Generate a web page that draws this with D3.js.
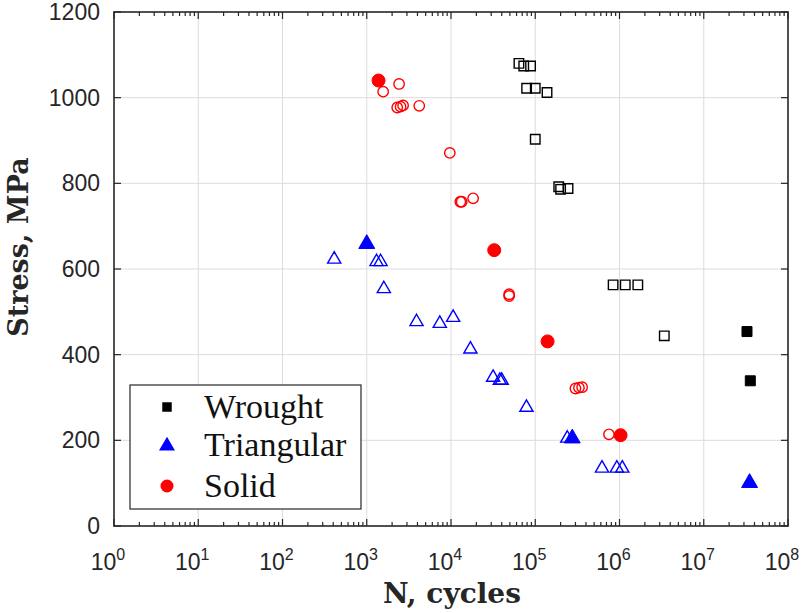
<!DOCTYPE html>
<html>
<head>
<meta charset="utf-8">
<script src="https://cdn.jsdelivr.net/npm/d3@7"></script>
<style>
  body { margin: 0; background: #fff; }
  svg { display: block; }
</style>
</head>
<body>
<div id="chart"></div>
<script>
// wrought (open = failed, filled = run-out)
var wroughtOpen = [
    [6.4e4, 1080], [7.3e4, 1074], [8.8e4, 1074], [7.9e4, 1022], [1.0e5, 1022],
    [1.38e5, 1012], [1.0e5, 903], [1.9e5, 792], [2.0e5, 786], [2.45e5, 788],
    [8.4e5, 563], [1.17e6, 563], [1.65e6, 563], [3.4e6, 444]
];
var wroughtFilled = [[3.26e7, 454], [3.57e7, 339]];

var triOpen = [
    [411, 625], [1306, 619], [1459, 619], [1595, 556], [3900, 479], [7360, 475],
    [10600, 489], [17000, 415], [31600, 349], [38000, 342], [40000, 342],
    [78600, 279], [2.4e5, 207], [6.2e5, 137], [9.3e5, 137], [1.08e6, 137]
];
var triFilled = [[1000, 661], [2.75e5, 207], [3.5e7, 103]];

var solidOpen = [
    [1566, 1014], [2420, 1032], [2300, 977], [2520, 979], [2700, 982], [4200, 981],
    [9680, 871], [12900, 757], [13400, 757], [18300, 765], [49000, 541], [49000, 537],
    [3.0e5, 321], [3.3e5, 323], [3.6e5, 324], [7.5e5, 214]
];
var solidFilled = [[1380, 1040], [32600, 644], [1.4e5, 431], [1.03e6, 212]];

var legendItems = ["Wrought", "Triangular", "Solid"];
var yTicks = [0, 200, 400, 600, 800, 1000, 1200];
var xExps = [0, 1, 2, 3, 4, 5, 6, 7, 8];

var width = 808, height = 613;
var margin = { left: 114, right: 20, top: 12, bottom: 87 };

var svg = d3.select('#chart').append('svg')
    .attr('width', width)
    .attr('height', height);

var x = d3.scaleLog().domain([1, 1e8]).range([margin.left, width - margin.right]);
var y = d3.scaleLinear().domain([0, 1200]).range([height - margin.bottom, margin.top]);

var x0 = x.range()[0], x1 = x.range()[1], y0 = y.range()[0], y1 = y.range()[1];
var axisColor = '#262626';
var serif = 'Liberation Serif, Times New Roman, serif';

/* grid */
var grid = svg.append('g').attr('stroke', '#dcdcdc').attr('stroke-width', 1);
grid.selectAll('.gx').data(xExps.slice(1, -1)).enter().append('line')
    .attr('x1', function(d) { return x(Math.pow(10, d)); })
    .attr('x2', function(d) { return x(Math.pow(10, d)); })
    .attr('y1', y0).attr('y2', y1);
grid.selectAll('.gy').data(yTicks.slice(1, -1)).enter().append('line')
    .attr('y1', function(d) { return y(d); })
    .attr('y2', function(d) { return y(d); })
    .attr('x1', x0).attr('x2', x1);

/* ticks (inward, on all four sides) */
var minor = [];
xExps.slice(0, -1).forEach(function(e) {
    for (var k = 2; k <= 9; k++) minor.push(k * Math.pow(10, e));
});
var ticks = svg.append('g').attr('stroke', axisColor).attr('stroke-width', 1.2);
[y0, y1].forEach(function(yy, i) {
    var dir = i === 0 ? -1 : 1;
    ticks.selectAll('.mx' + i).data(xExps).enter().append('line')
        .attr('x1', function(d) { return x(Math.pow(10, d)); })
        .attr('x2', function(d) { return x(Math.pow(10, d)); })
        .attr('y1', yy).attr('y2', yy + dir * 7);
    ticks.selectAll('.nx' + i).data(minor).enter().append('line')
        .attr('x1', function(d) { return x(d); })
        .attr('x2', function(d) { return x(d); })
        .attr('y1', yy).attr('y2', yy + dir * 4);
});
[x0, x1].forEach(function(xx, i) {
    var dir = i === 0 ? 1 : -1;
    ticks.selectAll('.my' + i).data(yTicks).enter().append('line')
        .attr('y1', function(d) { return y(d); })
        .attr('y2', function(d) { return y(d); })
        .attr('x1', xx).attr('x2', xx + dir * 7);
});

/* box */
svg.append('rect')
    .attr('x', x0).attr('y', y1)
    .attr('width', x1 - x0).attr('height', y0 - y1)
    .attr('fill', 'none').attr('stroke', axisColor).attr('stroke-width', 1.6);

/* tick labels */
svg.append('g').selectAll('text').data(yTicks).enter().append('text')
    .attr('x', x0 - 14)
    .attr('y', function(d) { return y(d) + 8; })
    .attr('text-anchor', 'end')
    .attr('font-family', 'Liberation Sans, Arial, sans-serif')
    .attr('font-size', 23)
    .attr('fill', axisColor)
    .text(function(d) { return d; });

var xl = svg.append('g').selectAll('text').data(xExps).enter().append('text')
    .attr('x', function(d) { return x(Math.pow(10, d)) - 6; })
    .attr('y', 570)
    .attr('text-anchor', 'middle')
    .attr('font-family', 'Liberation Sans, Arial, sans-serif')
    .attr('font-size', 23)
    .attr('fill', axisColor);
xl.append('tspan').text('10');
xl.append('tspan').attr('font-size', 16).attr('dy', -10).text(function(d) { return d; });

/* axis titles */
svg.append('text')
    .attr('x', (x0 + x1) / 2 + 1)
    .attr('y', 603)
    .attr('text-anchor', 'middle')
    .attr('font-family', 'DejaVu Serif, serif')
    .attr('font-weight', 'bold')
    .attr('font-size', 28)
    .attr('fill', axisColor)
    .text('N, cycles');

svg.append('text')
    .attr('transform', 'translate(28,' + 247 + ') rotate(-90)')
    .attr('text-anchor', 'middle')
    .attr('font-family', 'DejaVu Serif, serif')
    .attr('font-weight', 'bold')
    .attr('font-size', 27)
    .attr('fill', axisColor)
    .text('Stress, MPa');

/* markers */
var sq = d3.symbol().type(d3.symbolSquare);
var tri = d3.symbol().type(d3.symbolTriangle);
var plot = svg.append('g');

function draw(data, gen, size, color, filled, sw, dy) {
    plot.append('g').selectAll('path').data(data).enter().append('path')
        .attr('d', gen.size(size))
        .attr('transform', function(d) { return 'translate(' + x(d[0]) + ',' + (y(d[1]) + (dy || 0)) + ')'; })
        .attr('fill', filled ? color : 'none')
        .attr('stroke', color)
        .attr('stroke-width', sw);
}
function dots(data, r, color, filled, sw) {
    plot.append('g').selectAll('circle').data(data).enter().append('circle')
        .attr('cx', function(d) { return x(d[0]); })
        .attr('cy', function(d) { return y(d[1]); })
        .attr('r', r)
        .attr('fill', filled ? color : 'none')
        .attr('stroke', color)
        .attr('stroke-width', sw);
}

draw(wroughtOpen, sq, 90, '#000', false, 1.4);
draw(wroughtFilled, sq, 100, '#000', true, 1);
draw(triOpen, tri, 75, '#0000ff', false, 1.4, 1);
draw(triFilled, tri, 110, '#0000ff', true, 1, 1);
dots(solidOpen, 5.2, '#ff0000', false, 1.4);
dots(solidFilled, 6.5, '#ff0000', true, 1);

/* legend */
var lg = svg.append('g');
lg.append('rect')
    .attr('x', 130).attr('y', 385).attr('width', 231).attr('height', 124)
    .attr('fill', '#fff').attr('stroke', axisColor).attr('stroke-width', 1.2);
var ly = [407, 445, 486];
lg.append('path').attr('d', sq.size(90)).attr('transform', 'translate(167,' + ly[0] + ')').attr('fill', '#000');
lg.append('path').attr('d', tri.size(110)).attr('transform', 'translate(167,' + (ly[1] + 1) + ')').attr('fill', '#0000ff');
lg.append('circle').attr('cx', 167).attr('cy', ly[2]).attr('r', 6.5).attr('fill', '#ff0000');
lg.selectAll('text').data(legendItems).enter().append('text')
    .attr('x', 204)
    .attr('y', function(d, i) { return ly[i] + 11; })
    .attr('font-family', serif)
    .attr('font-size', 34)
    .attr('fill', '#111')
    .text(function(d) { return d; });
</script>
</body>
</html>
